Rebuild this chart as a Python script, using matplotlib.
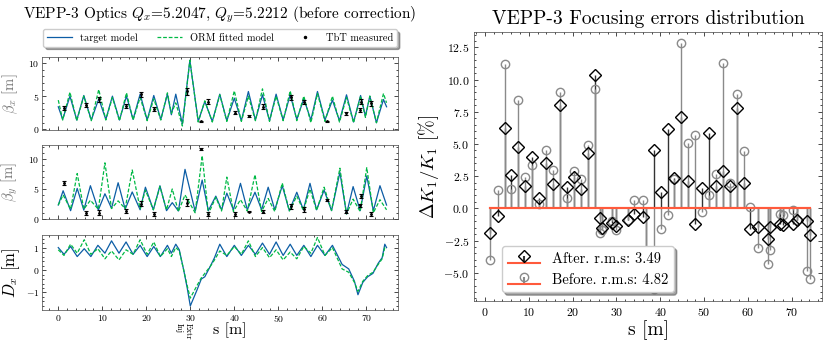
import numpy as np
import matplotlib
matplotlib.use("Agg")
import matplotlib.pyplot as plt
from matplotlib.ticker import AutoMinorLocator, MultipleLocator
from matplotlib.lines import Line2D

plt.rcParams.update({
    "font.family": "cmr10",
    "mathtext.fontset": "cm",
    "axes.formatter.use_mathtext": True,
    "axes.unicode_minus": True,
    "xtick.direction": "in",
    "ytick.direction": "in",
    "xtick.top": True,
    "ytick.right": True,
    "xtick.minor.visible": True,
    "ytick.minor.visible": True,
    "xtick.major.size": 3,
    "ytick.major.size": 3,
    "xtick.minor.size": 1.5,
    "ytick.minor.size": 1.5,
    "xtick.major.width": 0.5,
    "ytick.major.width": 0.5,
    "xtick.minor.width": 0.5,
    "ytick.minor.width": 0.5,
    "axes.linewidth": 0.5,
    "axes.edgecolor": "#444444",
})

BLUE = "#0C5DA5"
GREEN = "#00B945"

# ---------------- Left panel data ----------------
bx_model_s = [0, 1.0, 2.65, 4.2, 5.8, 7.5, 9.2, 10.8, 12.3, 13.9, 15.5, 17.0, 18.6, 20.2, 21.7, 23.3,
              24.8, 25.7, 26.7, 28.2, 29.9, 31.8, 33.3, 35.0, 36.7, 38.3, 40.0, 41.6, 43.2, 44.8, 46.4,
              48.0, 49.5, 51.1, 52.7, 54.2, 55.8, 57.4, 58.9, 60.6, 62.3, 63.9, 65.5, 67.1, 68.7, 69.8,
              70.8, 72.3, 73.9, 74.6]
bx_target = [3.4, 1.5, 5.0, 1.4, 5.1, 1.4, 4.6, 1.5, 5.0, 1.4, 5.0, 1.5, 5.3, 1.4, 5.1, 1.5,
             5.3, 2.2, 5.3, 0.8, 10.4, 1.2, 4.2, 1.2, 5.3, 1.3, 4.7, 1.3, 5.7, 1.4, 5.2,
             1.3, 5.3, 1.4, 5.2, 1.5, 4.6, 1.4, 5.7, 1.4, 4.4, 1.3, 5.2, 1.1, 5.1, 2.0,
             5.0, 1.0, 4.5, 3.4]
bx_orm = [4.4, 1.4, 5.6, 1.3, 5.0, 1.3, 6.0, 1.4, 4.8, 1.3, 5.5, 1.4, 4.8, 1.3, 4.6, 1.4,
          5.5, 2.4, 4.0, 0.5, 10.4, 1.1, 4.3, 1.1, 5.2, 1.2, 5.8, 1.2, 5.0, 1.3, 6.1,
          1.2, 5.0, 1.3, 5.8, 1.3, 5.0, 1.0, 5.4, 1.2, 5.0, 1.1, 4.8, 1.0, 5.0, 1.8,
          5.0, 1.0, 5.4, 4.0]

by_model_s = [0, 1.1, 2.8, 4.3, 5.8, 7.3, 9.1, 10.6, 12.1, 13.6, 15.2, 16.8, 18.6, 19.8, 21.6, 23.1,
              24.6, 25.9, 27.3, 28.8, 31.1, 32.7, 34.1, 35.8, 37.1, 38.3, 39.8, 41.4, 42.95, 44.7,
              46.2, 47.7, 49.2, 50.9, 52.5, 54.2, 55.7, 57.2, 58.7, 60.4, 62.1, 64.0, 65.5, 67.0,
              68.6, 70.1, 71.6, 73.1, 74.6]
by_target = [2.3, 4.7, 1.35, 5.1, 1.45, 5.55, 1.45, 4.2, 1.75, 6.05, 1.6, 4.5, 1.5, 5.3, 1.5, 5.55,
             1.35, 2.7, 1.3, 8.3, 1.25, 6.5, 1.35, 3.8, 1.5, 4.3, 1.5, 5.95, 1.5, 4.45,
             1.5, 5.3, 1.5, 5.55, 1.35, 4.45, 1.5, 5.95, 1.5, 4.8, 1.35, 7.8, 0.8, 5.4,
             1.35, 7.2, 1.35, 5.55, 2.3]
by_orm = [2.3, 4.0, 1.6, 7.6, 1.6, 3.1, 1.6, 9.4, 1.7, 3.0, 1.7, 8.2, 1.7, 4.8, 1.5, 5.4,
          1.5, 5.0, 1.2, 4.0, 1.0, 10.6, 0.8, 3.6, 1.3, 7.0, 1.2, 3.2, 1.3, 7.4,
          1.2, 3.4, 1.2, 6.0, 1.3, 3.8, 1.4, 5.0, 1.4, 5.3, 1.4, 8.5, 0.8, 3.3,
          1.2, 8.6, 1.0, 3.2, 1.5]

dx_model_s = [0, 1.3, 2.8, 4.3, 5.9, 7.4, 9.0, 10.6, 12.1, 13.8, 15.4, 17.0, 18.6, 20.2, 21.7, 23.2,
              24.8, 25.7, 26.7, 27.5, 28.5, 29.3, 30.0, 31.5, 32.5, 33.3, 34.5, 35.5, 36.7, 38.3,
              40.0, 41.6, 43.2, 44.8, 46.4, 48.0, 49.5, 51.1, 52.7, 54.2, 55.8, 57.4, 58.9, 60.6,
              62.3, 64.5, 66.0, 67.3, 68.1, 69.2, 70.3, 71.5, 72.7, 73.6, 74.2, 74.6]
dx_target = [1.0, 0.7, 1.05, 0.6, 0.95, 0.6, 1.1, 0.75, 1.3, 0.75, 1.25, 0.7, 1.1, 0.6, 1.05, 0.6,
             1.1, 0.75, 1.15, 0.9, 0.0, -0.8, -1.6, -0.9, -0.4, -0.3, 0.15, 0.55, 1.15, 0.6,
             1.1, 0.65, 1.1, 0.7, 1.2, 0.7, 1.25, 0.65, 1.15, 0.65, 1.1, 0.6, 1.1, 0.65,
             1.1, 0.25, 0.05, -0.5, -1.1, -0.55, -0.3, -0.15, 0.3, 0.55, 1.15, 1.0]
dx_orm = [0.9, 0.65, 1.15, 0.75, 1.35, 0.7, 0.95, 0.5, 0.85, 0.45, 0.9, 0.7, 1.35, 0.7, 1.25, 0.6,
          0.95, 0.6, 1.0, 0.85, 0.0, -0.7, -1.25, -0.7, -0.35, -0.15, 0.15, 0.45, 0.85, 0.65,
          1.05, 0.7, 1.3, 0.6, 1.0, 0.55, 0.9, 0.45, 0.8, 0.5, 1.05, 0.75, 1.45, 0.65,
          1.0, 0.05, -0.1, -0.55, -0.95, -0.5, -0.25, -0.1, 0.25, 0.5, 1.0, 0.95]

tbt_s = [1.3, 6.2, 9.2, 15.5, 18.7, 21.8, 29.2, 32.5, 34.1, 40.2, 43.3, 46.6, 52.8, 55.9,
         61.0, 65.4, 68.6, 68.7, 71.1]
tbt_bx = [3.15, 3.65, 4.5, 3.5, 5.25, 3.0, 5.75, 1.2, 4.15, 2.5, 2.0, 3.4, 4.8, 4.15,
          1.2, 2.4, 2.9, 4.15, 3.9]
tbt_bx_err = [0.3, 0.35, 0.4, 0.35, 0.4, 0.3, 0.55, 0.1, 0.35, 0.2, 0.15, 0.4, 0.4, 0.3,
              0.1, 0.2, 0.25, 0.35, 0.35]
tbt_by = [5.95, 1.0, 1.0, 1.3, 2.5, 0.8, 2.7, 11.7, 0.8, 0.8, 1.2, 1.2, 2.1, 1.6,
          3.15, 1.2, 2.3, 3.8, 0.8]
tbt_by_err = [0.35, 0.35, 0.4, 0.3, 0.4, 0.3, 0.6, 0.15, 0.35, 0.3, 0.15, 0.3, 0.4, 0.4,
              0.15, 0.25, 0.25, 0.4, 0.35]

# ---------------- Right panel data ----------------
quad_s = [1.2, 3.0, 4.5, 6.0, 7.6, 9.2, 10.7, 12.3, 13.9, 15.5, 17.1, 18.7, 20.3, 21.8, 23.4, 25.0,
          26.2, 26.8, 29.1, 29.8, 32.7, 33.9, 36.1, 36.8, 38.6, 40.1, 41.7, 43.2, 44.7, 46.3,
          47.9, 49.5, 51.1, 52.7, 54.3, 55.8, 57.4, 59.0, 60.5, 62.3, 64.5, 65.1, 67.4, 68.1,
          70.3, 71.2, 73.4, 74.1]
dk_after = [-1.94, -0.57, 6.24, 2.56, 4.8, 1.73, 4.01, 0.78, 3.49, 1.89, 8.0, 1.68, 2.43, 1.53, 4.32, 10.38,
            -0.75, -1.5, -1.12, -1.38, -0.93, -0.47, -0.67, -3.47, 4.56, 1.27, 6.13, 2.38, 7.09, 2.12,
            -1.2, 1.58, 5.85, 1.71, 2.92, 1.73, 7.82, 1.97, -1.63, -1.45, -2.36, -1.48, -1.19, -1.32,
            -1.24, -0.88, -1.01, -2.1]
dk_before = [-3.99, 1.45, 11.23, 1.47, 8.38, 2.46, 3.39, 0.34, 4.53, 2.97, 9.03, 0.83, 2.87, 2.25, 4.89, 9.24,
             -1.89, -1.7, -0.98, -1.71, -0.93, 0.62, 0.62, -5.54, -6.29, -1.58, -0.54, 2.3, 12.81, 5.1,
             5.72, -0.29, 1.01, 2.69, 11.28, 1.94, 8.9, 4.45, 0.1, -3.05, -4.32, -3.26, -0.41, -0.54,
             -0.1, -0.9, -4.84, -5.51]
rms_after = 3.49
rms_before = 4.82

# ---------------- Figure ----------------
fig = plt.figure(figsize=(8.25, 3.41), dpi=100)
W, H = 825.0, 341.0

def axes_px(l, t, r, b):
    return fig.add_axes([l / W, 1 - b / H, (r - l) / W, (b - t) / H])

ax1 = axes_px(42, 57, 398, 130)
ax2 = axes_px(42, 145, 398, 219)
ax3 = axes_px(42, 235, 398, 310)
axr = axes_px(474, 32, 822, 301)

lw = 0.9
l_t, = ax1.plot(bx_model_s, bx_target, color=BLUE, lw=lw, label="target model")
l_o, = ax1.plot(bx_model_s, bx_orm, color=GREEN, lw=lw, ls="--", dashes=(3, 1.5), label="ORM fitted model")
ax1.errorbar(tbt_s, tbt_bx, yerr=tbt_bx_err, fmt="o", color="k", ms=1.0, elinewidth=1.0,
             capsize=1.5, capthick=0.8)
ax2.plot(by_model_s, by_target, color=BLUE, lw=lw)
ax2.plot(by_model_s, by_orm, color=GREEN, lw=lw, ls="--", dashes=(3, 1.5))
ax2.errorbar(tbt_s, tbt_by, yerr=tbt_by_err, fmt="o", color="k", ms=1.0, elinewidth=1.0,
             capsize=1.5, capthick=0.8)
ax3.plot(dx_model_s, dx_target, color=BLUE, lw=lw)
ax3.plot(dx_model_s, dx_orm, color=GREEN, lw=lw, ls="--", dashes=(3, 1.5))
tbt_handle = Line2D([], [], ls="none", marker="o", ms=1.5, color="k", label="TbT measured")

for a in (ax1, ax2, ax3):
    a.set_xlim(-3.7, 77.2)
    a.xaxis.set_major_locator(MultipleLocator(10))
    a.xaxis.set_minor_locator(AutoMinorLocator(5))
    a.tick_params(labelsize=7, pad=2)
for a in (ax1, ax2):
    a.tick_params(labelbottom=False)

ax1.set_ylim(-0.1, 10.9)
ax1.yaxis.set_major_locator(MultipleLocator(5))
ax2.set_ylim(-0.05, 12.4)
ax2.yaxis.set_major_locator(MultipleLocator(5))
ax3.set_ylim(-1.78, 1.56)
ax3.yaxis.set_major_locator(MultipleLocator(1))

ax1.set_ylabel(r"$\beta_x$ [m]", fontsize=10.5, color="#777777")
ax2.set_ylabel(r"$\beta_y$ [m]", fontsize=10.5, color="#777777")
ax3.set_ylabel(r"$D_x$ [m]", fontsize=12)
ax3.set_xlabel("s [m]", fontsize=11.5)
for a in (ax1, ax2):
    a.yaxis.set_label_coords(-0.062, 0.5)
ax3.yaxis.set_label_coords(-0.056, 0.5)
ax3.xaxis.set_label_coords((230 - 42) / 356, -(330 - 310) / 75, transform=ax3.transAxes)
ax3.xaxis.label.set_va("center")

ax3.text(27.4, -2.38, "Inj", rotation=-90, fontsize=6, ha="center", va="top")
ax3.text(29.5, -2.38, "Extr", rotation=-90, fontsize=6, ha="center", va="top")

fig.text(220 / W, 1 - 15 / H, r"VEPP-3 Optics $Q_x$=5.2047, $Q_y$=5.2212 (before correction)",
         ha="center", va="center", fontsize=11)
fig.legend(handles=[l_t, l_o, tbt_handle], loc="center", bbox_to_anchor=(220 / W, 1 - 38 / H), ncol=3,
           fontsize=7.5, fancybox=True, shadow=True, handlelength=2.4, columnspacing=1.8,
           borderpad=0.35, framealpha=1, handletextpad=0.8)

# ---------------- Right panel ----------------
st_a = axr.stem(quad_s, dk_after, linefmt="-", markerfmt="D", basefmt="-")
st_b = axr.stem(quad_s, dk_before, linefmt="-", markerfmt="o", basefmt="-")
st_a.stemlines.set_color("#333333")
st_a.stemlines.set_linewidth(1.0)
st_b.stemlines.set_color("#8a8a8a")
st_b.stemlines.set_linewidth(1.0)
st_a.markerline.set_markerfacecolor("none")
st_a.markerline.set_markeredgecolor("k")
st_a.markerline.set_markersize(6.5)
st_a.markerline.set_markeredgewidth(1.0)
st_a.markerline.set_zorder(4)
st_b.markerline.set_markerfacecolor("none")
st_b.markerline.set_markeredgecolor("#8a8a8a")
st_b.markerline.set_markersize(6)
st_b.markerline.set_markeredgewidth(1.0)
st_b.markerline.set_zorder(3)
for st in (st_a, st_b):
    st.baseline.set_color("#FF5A3C")
    st.baseline.set_linewidth(1.5)
    st.baseline.set_zorder(5)

axr.set_xlim(-2.5, 76.9)
axr.set_ylim(-7.2, 13.7)
axr.xaxis.set_major_locator(MultipleLocator(10))
axr.xaxis.set_minor_locator(AutoMinorLocator(5))
axr.yaxis.set_major_locator(MultipleLocator(2.5))
axr.yaxis.set_minor_locator(AutoMinorLocator(5))
axr.tick_params(labelsize=8.5)
axr.set_title("VEPP-3 Focusing errors distribution", fontsize=14, pad=6)
axr.set_xlabel("s [m]", fontsize=14, labelpad=2)
axr.set_ylabel(r"$\Delta K_1/K_1$ [%]", fontsize=13.5, labelpad=2)
axr.legend([st_a, st_b], [f"After. r.m.s: {rms_after:.2f}", f"Before. r.m.s: {rms_before:.2f}"],
           loc="lower left", bbox_to_anchor=(0.06, 0.005), fontsize=10.5, fancybox=True, shadow=True,
           framealpha=1, handlelength=2.2)

fig.savefig("out.png", dpi=100)
